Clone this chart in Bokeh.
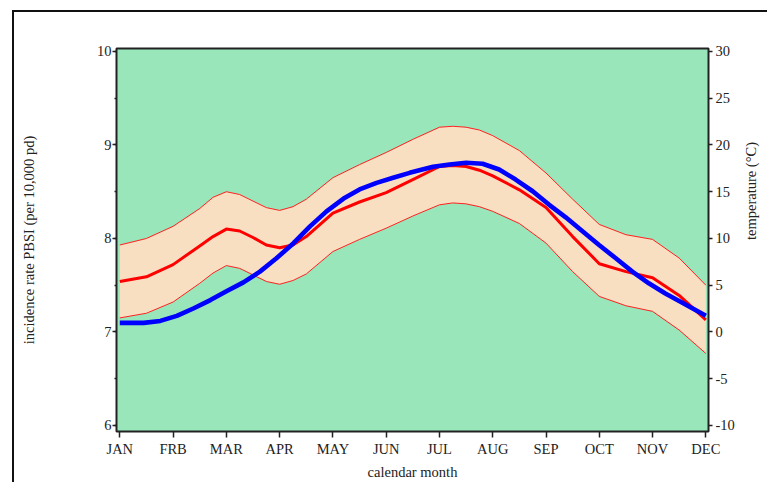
from bokeh.plotting import figure
from bokeh.models import Range1d, LinearAxis, FixedTicker, SingleIntervalTicker
from bokeh.embed import file_html
from bokeh.resources import INLINE

months = ["JAN", "FRB", "MAR", "APR", "MAY", "JUN", "JUL", "AUG", "SEP", "OCT", "NOV", "DEC"]
month_pos = list(range(12))

# incidence rate (left axis), sampled along the month axis (0 = JAN ... 11 = DEC)
rate_month = [0, 0.5, 1, 1.5, 1.75, 2, 2.25, 2.5, 2.75, 3, 3.25, 3.5, 4, 4.5, 5, 5.5,
              6, 6.25, 6.5, 6.75, 7, 7.5, 8, 8.5, 9, 9.5, 10, 10.5, 11]
rate_mid = [7.54, 7.59, 7.72, 7.92, 8.02, 8.10, 8.08, 8.01, 7.93, 7.90, 7.93, 8.02, 8.27,
            8.39, 8.49, 8.63, 8.77, 8.78, 8.77, 8.73, 8.67, 8.52, 8.33, 8.02, 7.73, 7.645,
            7.58, 7.39, 7.13]
rate_upper = [7.93, 8.00, 8.13, 8.32, 8.44, 8.50, 8.47, 8.40, 8.33, 8.30, 8.34, 8.42, 8.65,
              8.79, 8.92, 9.06, 9.19, 9.20, 9.19, 9.16, 9.10, 8.94, 8.70, 8.42, 8.15, 8.04,
              7.99, 7.79, 7.50]
rate_lower = [7.15, 7.20, 7.32, 7.52, 7.63, 7.71, 7.68, 7.61, 7.54, 7.51, 7.55, 7.62, 7.86,
              7.99, 8.11, 8.24, 8.36, 8.38, 8.37, 8.34, 8.29, 8.16, 7.95, 7.645, 7.38, 7.28,
              7.22, 7.02, 6.77]

# temperature (right axis)
temp_month = [0, 0.45, 0.76, 1.07, 1.38, 1.70, 2.01, 2.32, 2.63, 2.94, 3.26, 3.57, 3.88,
              4.20, 4.50, 4.82, 5.13, 5.44, 5.88, 6.19, 6.50, 6.81, 7.12, 7.43, 7.75, 8.06,
              8.37, 8.69, 8.99, 9.31, 9.62, 9.93, 10.24, 10.55, 11.0]
temperature = [0.97, 0.97, 1.18, 1.72, 2.51, 3.41, 4.37, 5.30, 6.45, 7.88, 9.49, 11.29, 12.9,
               14.27, 15.24, 15.95, 16.49, 17.02, 17.67, 17.92, 18.1, 17.99, 17.38, 16.3,
               15.05, 13.6, 12.26, 10.75, 9.32, 7.88, 6.45, 5.2, 4.12, 3.15, 1.72]
temp_ticks = [-10, -5, 0, 5, 10, 15, 20, 25, 30]

FONT = "Liberation Serif"
FS = "14.5px"
GREEN = "#98E6BA"
PEACH = "#F8DFC2"

p = figure(width=755, height=472, output_backend="svg", toolbar_location=None,
           x_range=Range1d(-0.062, 11.05), y_range=Range1d(5.935, 10.032),
           min_border_left=102, min_border_right=57, min_border_top=36, min_border_bottom=53)
p.styles = {"margin-left": "12px", "margin-top": "10px",
            "border-left": "2px solid #111", "border-top": "2px solid #111"}

p.background_fill_color = GREEN
p.border_fill_color = "white"
p.outline_line_color = "#222"
p.outline_line_width = 2
p.grid.visible = False

p.extra_y_ranges = {"temp": Range1d(-10.65, 30.32)}

# band
p.varea(x=rate_month, y1=rate_lower, y2=rate_upper, fill_color=PEACH, fill_alpha=1)
p.line(rate_month, rate_upper, line_color="#FF2020", line_width=1, line_join="round")
p.line(rate_month, rate_lower, line_color="#FF2020", line_width=1, line_join="round")
p.line(rate_month, rate_mid, line_color="#FF0000", line_width=3, line_join="round")
p.line(temp_month, temperature, line_color="#0000FF", line_width=4.6, line_join="round",
       y_range_name="temp")

# x axis
xa = p.xaxis[0]
xa.ticker = FixedTicker(ticks=month_pos)
xa.major_label_overrides = {i: m for i, m in zip(month_pos, months)}
xa.axis_label = "calendar month"
xa.major_tick_out = 6
xa.major_tick_in = 0
xa.minor_tick_line_color = None
xa.major_label_standoff = 3
xa.axis_label_standoff = 4

# left axis
ya = p.yaxis[0]
ya.ticker = SingleIntervalTicker(interval=1, num_minor_ticks=2)
ya.axis_label = "incidence rate PBSI (per 10,000 pd)"
ya.major_tick_out = 4
ya.major_tick_in = 0
ya.minor_tick_out = 2
ya.minor_tick_in = 0
ya.major_label_standoff = 1
ya.axis_label_standoff = 57

# right axis
ra = LinearAxis(y_range_name="temp", ticker=FixedTicker(ticks=temp_ticks),
                axis_label="temperature (\u00b0C)")
ra.major_label_overrides = {t: str(t) for t in temp_ticks}
ra.major_tick_out = 4
ra.major_tick_in = 0
ra.minor_tick_line_color = None
ra.major_label_standoff = 3
ra.axis_label_standoff = 13
p.add_layout(ra, "right")

for ax in [xa, ya, ra]:
    ax.axis_line_color = None
    ax.major_tick_line_color = "#222"
    ax.major_tick_line_width = 1.5
    ax.minor_tick_line_width = 1.5
    ax.major_label_text_font = FONT
    ax.major_label_text_font_size = FS
    ax.major_label_text_color = "#222"
    ax.axis_label_text_font = FONT
    ax.axis_label_text_font_size = FS
    ax.axis_label_text_font_style = "normal"
    ax.axis_label_text_color = "#222"
ya.minor_tick_line_color = "#222"

if "axis_label_orientation" in LinearAxis.properties():
    ra.axis_label_orientation = 1.5707963

open("out.html", "w").write(file_html(p, INLINE))
